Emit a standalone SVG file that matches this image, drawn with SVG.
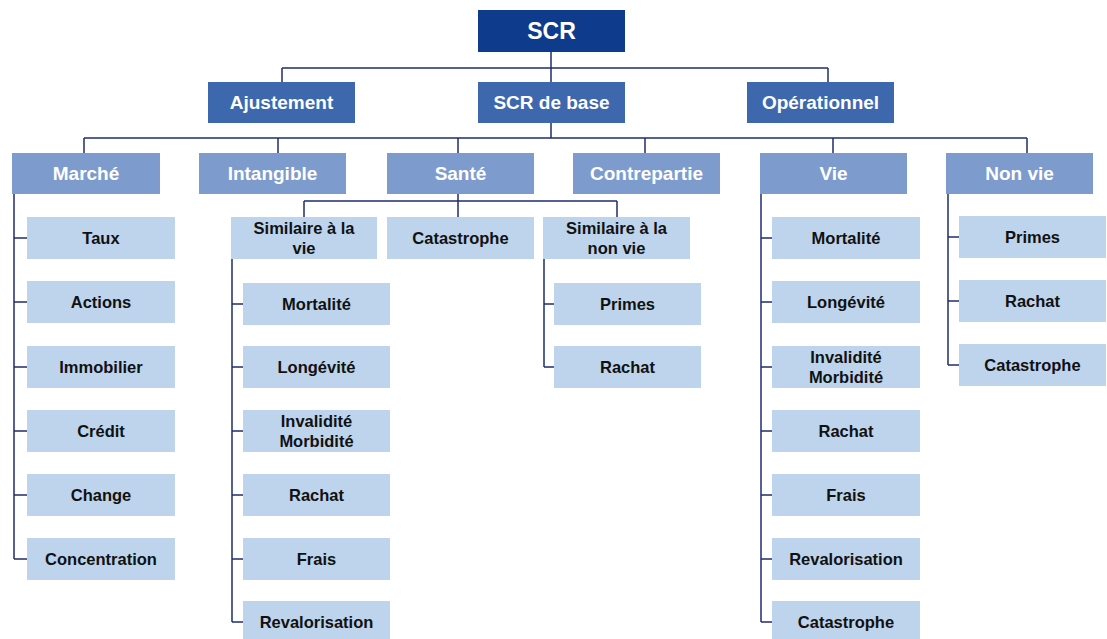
<svg xmlns="http://www.w3.org/2000/svg" width="1107" height="639" viewBox="0 0 1107 639">
<style>
.l1{fill:#0f3b8c}
.l2{fill:#3d68ae}
.l3{fill:#7d9bcd}
.l4{fill:#bdd4ec}
text{font-family:"Liberation Sans",Arial,sans-serif;font-weight:bold;text-anchor:middle;dominant-baseline:central}
.tw{fill:#ffffff;font-size:19px}
.tb{fill:#111111;font-size:16.5px}
.big{font-size:23px}
.conn{stroke:#1f2d6e;stroke-width:1.5;fill:none}
</style>
<rect width="1107" height="639" fill="#ffffff"/>
<g id="connectors" class="conn">
<path d="M551 52V82M282 68H828M282 68V82M828 68V82"/>
<path d="M551 123V138M84 138H1027M84 138V153M278 138V153M458 138V153M645 138V153M833 138V153M1027 138V153"/>
<path d="M14 194V559M14 238H27M14 302H27M14 367H27M14 431H27M14 495H27M14 559H27"/>
<path d="M458 194V217M304 201H617M304 201V217M617 201V217"/>
<path d="M232 259V622M232 304H243M232 367H243M232 431H243M232 495H243M232 559H243M232 622H243"/>
<path d="M544 259V367M544 304H554M544 367H554"/>
<path d="M761 194V622M761 238H772M761 302H772M761 367H772M761 431H772M761 495H772M761 559H772M761 622H772"/>
<path d="M948 194V365M948 237H959M948 301H959M948 365H959"/>
</g>
<g id="scr"><rect class="l1" x="478" y="10" width="147" height="42"/><text class="tw big" x="551.5" y="31">SCR</text></g>
<g id="ajustement"><rect class="l2" x="208" y="82" width="147" height="41"/><text class="tw" x="281.5" y="102.5">Ajustement</text></g>
<g id="scr-base"><rect class="l2" x="478" y="82" width="147" height="41"/><text class="tw" x="551.5" y="102.5">SCR de base</text></g>
<g id="operationnel"><rect class="l2" x="747" y="82" width="147" height="41"/><text class="tw" x="820.5" y="102.5">Opérationnel</text></g>
<g id="marche"><rect class="l3" x="12" y="153" width="148" height="41"/><text class="tw" x="86" y="173.5">Marché</text></g>
<g id="intangible"><rect class="l3" x="199" y="153" width="147" height="41"/><text class="tw" x="272.5" y="173.5">Intangible</text></g>
<g id="sante"><rect class="l3" x="387" y="153" width="147" height="41"/><text class="tw" x="460.5" y="173.5">Santé</text></g>
<g id="contrepartie"><rect class="l3" x="573" y="153" width="147" height="41"/><text class="tw" x="646.5" y="173.5">Contrepartie</text></g>
<g id="vie"><rect class="l3" x="760" y="153" width="147" height="41"/><text class="tw" x="833.5" y="173.5">Vie</text></g>
<g id="nonvie"><rect class="l3" x="946" y="153" width="147" height="41"/><text class="tw" x="1019.5" y="173.5">Non vie</text></g>
<g id="m-taux"><rect class="l4" x="27" y="217" width="148" height="42"/><text class="tb" x="101" y="238">Taux</text></g>
<g id="m-actions"><rect class="l4" x="27" y="281" width="148" height="42"/><text class="tb" x="101" y="302">Actions</text></g>
<g id="m-immobilier"><rect class="l4" x="27" y="346" width="148" height="42"/><text class="tb" x="101" y="367">Immobilier</text></g>
<g id="m-credit"><rect class="l4" x="27" y="410" width="148" height="42"/><text class="tb" x="101" y="431">Crédit</text></g>
<g id="m-change"><rect class="l4" x="27" y="474" width="148" height="42"/><text class="tb" x="101" y="495">Change</text></g>
<g id="m-concentration"><rect class="l4" x="27" y="538" width="148" height="42"/><text class="tb" x="101" y="559">Concentration</text></g>
<g id="s-simvie"><rect class="l4" x="231" y="217" width="146" height="42"/><text class="tb" x="304" y="228">Similaire à la</text><text class="tb" x="304" y="248">vie</text></g>
<g id="s-catastrophe"><rect class="l4" x="387" y="217" width="147" height="42"/><text class="tb" x="460.5" y="238">Catastrophe</text></g>
<g id="s-simnonvie"><rect class="l4" x="543" y="217" width="147" height="42"/><text class="tb" x="616.5" y="228">Similaire à la</text><text class="tb" x="616.5" y="248">non vie</text></g>
<g id="sv-mortalite"><rect class="l4" x="243" y="283" width="147" height="42"/><text class="tb" x="316.5" y="304">Mortalité</text></g>
<g id="sv-longevite"><rect class="l4" x="243" y="346" width="147" height="42"/><text class="tb" x="316.5" y="367">Longévité</text></g>
<g id="sv-invalidite"><rect class="l4" x="243" y="410" width="147" height="42"/><text class="tb" x="316.5" y="421">Invalidité</text><text class="tb" x="316.5" y="441">Morbidité</text></g>
<g id="sv-rachat"><rect class="l4" x="243" y="474" width="147" height="42"/><text class="tb" x="316.5" y="495">Rachat</text></g>
<g id="sv-frais"><rect class="l4" x="243" y="538" width="147" height="42"/><text class="tb" x="316.5" y="559">Frais</text></g>
<g id="sv-revalorisation"><rect class="l4" x="243" y="601" width="147" height="42"/><text class="tb" x="316.5" y="622">Revalorisation</text></g>
<g id="snv-primes"><rect class="l4" x="554" y="283" width="147" height="42"/><text class="tb" x="627.5" y="304">Primes</text></g>
<g id="snv-rachat"><rect class="l4" x="554" y="346" width="147" height="42"/><text class="tb" x="627.5" y="367">Rachat</text></g>
<g id="v-mortalite"><rect class="l4" x="772" y="217" width="148" height="42"/><text class="tb" x="846" y="238">Mortalité</text></g>
<g id="v-longevite"><rect class="l4" x="772" y="281" width="148" height="42"/><text class="tb" x="846" y="302">Longévité</text></g>
<g id="v-invalidite"><rect class="l4" x="772" y="346" width="148" height="42"/><text class="tb" x="846" y="357">Invalidité</text><text class="tb" x="846" y="377">Morbidité</text></g>
<g id="v-rachat"><rect class="l4" x="772" y="410" width="148" height="42"/><text class="tb" x="846" y="431">Rachat</text></g>
<g id="v-frais"><rect class="l4" x="772" y="474" width="148" height="42"/><text class="tb" x="846" y="495">Frais</text></g>
<g id="v-revalorisation"><rect class="l4" x="772" y="538" width="148" height="42"/><text class="tb" x="846" y="559">Revalorisation</text></g>
<g id="v-catastrophe"><rect class="l4" x="772" y="601" width="148" height="42"/><text class="tb" x="846" y="622">Catastrophe</text></g>
<g id="nv-primes"><rect class="l4" x="959" y="216" width="147" height="42"/><text class="tb" x="1032.5" y="237">Primes</text></g>
<g id="nv-rachat"><rect class="l4" x="959" y="280" width="147" height="42"/><text class="tb" x="1032.5" y="301">Rachat</text></g>
<g id="nv-catastrophe"><rect class="l4" x="959" y="344" width="147" height="42"/><text class="tb" x="1032.5" y="365">Catastrophe</text></g>
</svg>
